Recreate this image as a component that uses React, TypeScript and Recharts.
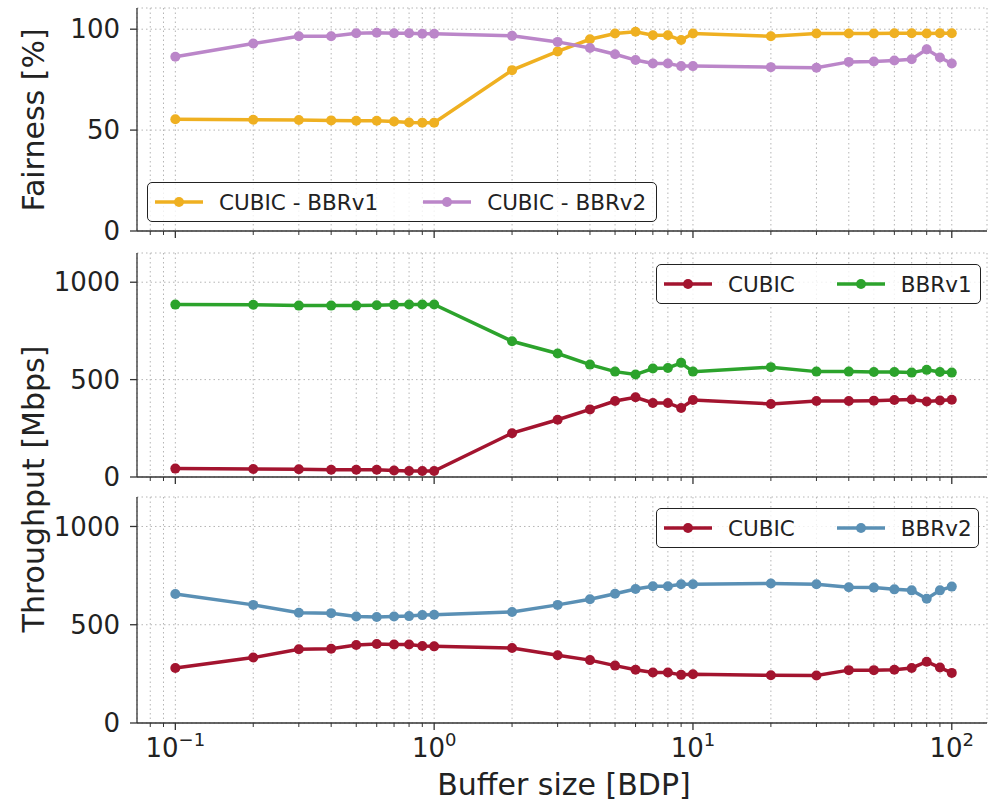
import { LineChart, Line, XAxis, YAxis, CartesianGrid } from "recharts";

const bufferSizes: number[] = [
  0.1, 0.2, 0.3, 0.4, 0.5, 0.6, 0.7, 0.8, 0.9, 1,
  2, 3, 4, 5, 6, 7, 8, 9, 10,
  20, 30, 40, 50, 60, 70, 80, 90, 100,
];

// top panel: Jain fairness [%]
const fairnessBbr1: number[] = [
  55.4, 55.1, 55.0, 54.8, 54.6, 54.6, 54.3, 53.8, 53.7, 53.7,
  79.7, 89.0, 95.0, 97.9, 98.7, 97.0, 97.0, 94.6, 97.9,
  96.5, 97.9, 97.9, 97.9, 98.0, 98.0, 97.9, 98.0, 98.0,
];
const fairnessBbr2: number[] = [
  86.3, 92.9, 96.5, 96.5, 98.0, 98.2, 98.0, 98.0, 97.7, 97.7,
  96.7, 93.7, 90.7, 87.6, 84.7, 83.0, 83.0, 81.7, 81.7,
  81.2, 80.9, 83.8, 84.0, 84.5, 85.1, 90.0, 86.0, 83.0,
];

// middle panel: CUBIC vs BBRv1 throughput [Mbps]
const cubicVsBbr1: number[] = [
  43, 41, 40, 37, 37, 37, 33, 31, 31, 31,
  225, 294, 347, 390, 409, 380, 380, 354, 395,
  375, 390, 390, 392, 395, 398, 388, 393, 397,
];
const bbr1Tput: number[] = [
  885, 884, 880, 880, 880, 882, 884, 886, 886, 886,
  697, 634, 577, 541, 526, 557, 560, 586, 541,
  564, 541, 541, 539, 539, 536, 550, 539, 536,
];

// bottom panel: CUBIC vs BBRv2 throughput [Mbps]
const cubicVsBbr2: number[] = [
  280, 333, 375, 378, 397, 402, 399, 399, 392, 390,
  382, 345, 320, 292, 271, 257, 257, 245, 248,
  243, 242, 269, 269, 271, 280, 312, 282, 255,
];
const bbr2Tput: number[] = [
  656, 601, 561, 559, 542, 539, 542, 544, 549, 551,
  565, 601, 630, 658, 682, 696, 696, 706, 706,
  710, 706, 691, 689, 680, 675, 632, 675, 694,
];

const xTicks: number[] = [
  0.08, 0.09, 0.1, 0.2, 0.3, 0.4, 0.5, 0.6, 0.7, 0.8, 0.9,
  1, 2, 3, 4, 5, 6, 7, 8, 9,
  10, 20, 30, 40, 50, 60, 70, 80, 90, 100,
];
const fairnessTicks = [0, 50, 100];
const tputTicks = [0, 500, 1000];

const FONT = "'DejaVu Sans', sans-serif";
const AXIS = "#333";
const C_YELLOW = "#efb021";
const C_PURPLE = "#bb86c9";
const C_RED = "#a3142f";
const C_GREEN = "#2ca32c";
const C_BLUE = "#5a90b5";

const xDomain: [number, number] = [0.0711, 136.8];

const fairnessData = bufferSizes.map((x, i) => ({
  x,
  bbr1: fairnessBbr1[i],
  bbr2: fairnessBbr2[i],
}));
const bbr1Data = bufferSizes.map((x, i) => ({
  x,
  cubic: cubicVsBbr1[i],
  bbr: bbr1Tput[i],
}));
const bbr2Data = bufferSizes.map((x, i) => ({
  x,
  cubic: cubicVsBbr2[i],
  bbr: bbr2Tput[i],
}));

const XTick = (props: any) => {
  const { x, y, payload, showLabel } = props;
  const v = payload.value as number;
  const lg = Math.log10(v);
  const exp = Math.round(lg);
  const major = Math.abs(lg - exp) < 1e-6;
  return (
    <g>
      <line
        x1={x}
        x2={x}
        y1={y}
        y2={y + (major ? 7 : 4)}
        stroke={AXIS}
        strokeWidth={major ? 1.3 : 1}
      />
      {showLabel && major && (
        <text
          x={x}
          y={y + 34}
          textAnchor="middle"
          fontSize={26}
          fontFamily={FONT}
          fill="#222"
        >
          10
          <tspan dy={-11} fontSize={18}>
            {exp < 0 ? "\u2212" + -exp : String(exp)}
          </tspan>
        </text>
      )}
    </g>
  );
};

const yTickStyle = { fontSize: 26, fontFamily: FONT, fill: "#222" };

interface LegendItem {
  label: string;
  color: string;
}

const LegendBox = ({
  items,
  left,
  top,
  width,
  gap,
}: {
  items: LegendItem[];
  left: number;
  top: number;
  width: number;
  gap: number;
}) => (
  <div
    style={{
      position: "absolute",
      left,
      top,
      width,
      height: 40,
      boxSizing: "border-box",
      border: "1.6px solid #222",
      borderRadius: 5,
      background: "rgba(255,255,255,0.8)",
      display: "flex",
      alignItems: "center",
      paddingLeft: 7,
      fontFamily: FONT,
      fontSize: 21.5,
      color: "#222",
    }}
  >
    {items.map((it, i) => (
      <div
        key={it.label}
        style={{ display: "flex", alignItems: "center", marginLeft: i ? gap : 0 }}
      >
        <svg width={48} height={12} style={{ marginRight: 16 }}>
          <line x1={0} x2={48} y1={6} y2={6} stroke={it.color} strokeWidth={3.5} />
          <circle cx={24} cy={6} r={5} fill={it.color} />
        </svg>
        <span>{it.label}</span>
      </div>
    ))}
  </div>
);

const Panel = ({
  data,
  height,
  top,
  xAxisHeight,
  yMax,
  yTicks,
  series,
  showLabels,
}: {
  data: any[];
  height: number;
  top: number;
  xAxisHeight: number;
  yMax: number;
  yTicks: number[];
  series: { key: string; color: string }[];
  showLabels: boolean;
}) => (
  <LineChart
    width={989}
    height={height}
    data={data}
    margin={{ top, right: 2, left: 0, bottom: 0 }}
  >
    <CartesianGrid
      stroke="#b5b5b5"
      strokeDasharray="1.5 3"
      strokeWidth={1}
    />
    <XAxis
      dataKey="x"
      type="number"
      scale="log"
      domain={xDomain}
      allowDataOverflow
      ticks={xTicks}
      interval={0}
      height={xAxisHeight}
      tickSize={0}
      tickMargin={0}
      tickLine={false}
      axisLine={{ stroke: AXIS, strokeWidth: 1.3 }}
      tick={<XTick showLabel={showLabels} />}
    />
    <XAxis
      xAxisId="top"
      orientation="top"
      dataKey="x"
      type="number"
      scale="log"
      domain={xDomain}
      allowDataOverflow
      height={0}
      tick={false}
      tickLine={false}
      axisLine={{ stroke: AXIS, strokeWidth: 1.3 }}
    />
    <YAxis
      type="number"
      domain={[0, yMax]}
      allowDataOverflow
      ticks={yTicks}
      interval={0}
      width={137}
      tickSize={7}
      tickMargin={10}
      tick={yTickStyle}
      tickLine={{ stroke: AXIS, strokeWidth: 1.3 }}
      axisLine={{ stroke: AXIS, strokeWidth: 1.3 }}
    />
    <YAxis
      yAxisId="right"
      orientation="right"
      type="number"
      domain={[0, yMax]}
      width={0}
      tick={false}
      tickLine={false}
      axisLine={{ stroke: AXIS, strokeWidth: 1.3 }}
    />
    {series.map((s) => (
      <Line
        key={s.key}
        type="linear"
        dataKey={s.key}
        stroke={s.color}
        strokeWidth={3.5}
        dot={{ r: 5, fill: s.color, stroke: s.color, strokeWidth: 0 }}
        activeDot={false}
        isAnimationActive={false}
      />
    ))}
  </LineChart>
);

export default function App() {
  return (
    <div
      style={{
        position: "absolute",
        left: 0,
        top: 0,
        width: 989,
        height: 804,
        background: "#fff",
        fontFamily: FONT,
      }}
    >
      <style>{`.recharts-surface { overflow: visible; }`}</style>
      <div style={{ position: "absolute", left: 0, top: 0 }}>
        <Panel
          data={fairnessData}
          height={245}
          top={8}
          xAxisHeight={14}
          yMax={110.5}
          yTicks={fairnessTicks}
          series={[
            { key: "bbr1", color: C_YELLOW },
            { key: "bbr2", color: C_PURPLE },
          ]}
          showLabels={false}
        />
      </div>
      <div style={{ position: "absolute", left: 0, top: 245 }}>
        <Panel
          data={bbr1Data}
          height={245}
          top={8}
          xAxisHeight={13}
          yMax={1150}
          yTicks={tputTicks}
          series={[
            { key: "cubic", color: C_RED },
            { key: "bbr", color: C_GREEN },
          ]}
          showLabels={false}
        />
      </div>
      <div style={{ position: "absolute", left: 0, top: 490 }}>
        <Panel
          data={bbr2Data}
          height={314}
          top={7}
          xAxisHeight={81}
          yMax={1150}
          yTicks={tputTicks}
          series={[
            { key: "cubic", color: C_RED },
            { key: "bbr", color: C_BLUE },
          ]}
          showLabels={true}
        />
      </div>

      <LegendBox
        left={147}
        top={182}
        width={510}
        gap={45}
        items={[
          { label: "CUBIC - BBRv1", color: C_YELLOW },
          { label: "CUBIC - BBRv2", color: C_PURPLE },
        ]}
      />
      <LegendBox
        left={656}
        top={264}
        width={325}
        gap={42}
        items={[
          { label: "CUBIC", color: C_RED },
          { label: "BBRv1", color: C_GREEN },
        ]}
      />
      <LegendBox
        left={656}
        top={508}
        width={323}
        gap={42}
        items={[
          { label: "CUBIC", color: C_RED },
          { label: "BBRv2", color: C_BLUE },
        ]}
      />

      <svg
        width={989}
        height={804}
        style={{ position: "absolute", left: 0, top: 0, pointerEvents: "none" }}
      >
        <text
          transform="translate(44,120) rotate(-90)"
          textAnchor="middle"
          fontSize={30}
          fontFamily={FONT}
          fill="#222"
        >
          Fairness [%]
        </text>
        <text
          transform="translate(44,489) rotate(-90)"
          textAnchor="middle"
          fontSize={30}
          fontFamily={FONT}
          fill="#222"
        >
          Throughput [Mbps]
        </text>
        <text
          x={564}
          y={795}
          textAnchor="middle"
          fontSize={30}
          fontFamily={FONT}
          fill="#222"
        >
          Buffer size [BDP]
        </text>
      </svg>
    </div>
  );
}
